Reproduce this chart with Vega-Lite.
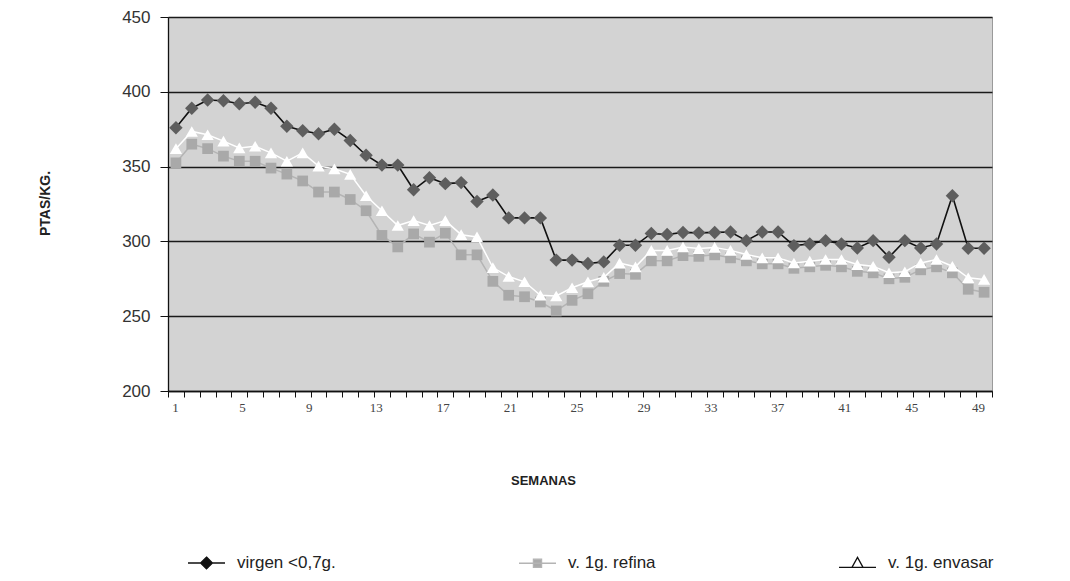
{
  "$schema": "https://vega.github.io/schema/vega-lite/v6.json",
  "width": 824,
  "height": 374,
  "autosize": "none",
  "padding": {"left": 168, "top": 17, "right": 78, "bottom": 190},
  "background": "white",
  "config": {
    "view": {"fill": "#d3d3d3", "stroke": "#9a9a9a", "strokeWidth": 1},
    "font": "Liberation Sans"
  },
  "data": {"values": [
    {"semana":1,"serie":"virgen <0,7g.","valor":376},{"semana":2,"serie":"virgen <0,7g.","valor":389},{"semana":3,"serie":"virgen <0,7g.","valor":394.5},{"semana":4,"serie":"virgen <0,7g.","valor":394},{"semana":5,"serie":"virgen <0,7g.","valor":392},{"semana":6,"serie":"virgen <0,7g.","valor":393},{"semana":7,"serie":"virgen <0,7g.","valor":389},{"semana":8,"serie":"virgen <0,7g.","valor":377},{"semana":9,"serie":"virgen <0,7g.","valor":374},{"semana":10,"serie":"virgen <0,7g.","valor":372},{"semana":11,"serie":"virgen <0,7g.","valor":375},{"semana":12,"serie":"virgen <0,7g.","valor":367.5},{"semana":13,"serie":"virgen <0,7g.","valor":357.6},{"semana":14,"serie":"virgen <0,7g.","valor":351},{"semana":15,"serie":"virgen <0,7g.","valor":351},{"semana":16,"serie":"virgen <0,7g.","valor":334.5},{"semana":17,"serie":"virgen <0,7g.","valor":342.6},{"semana":18,"serie":"virgen <0,7g.","valor":338.6},{"semana":19,"serie":"virgen <0,7g.","valor":339.3},{"semana":20,"serie":"virgen <0,7g.","valor":326.7},{"semana":21,"serie":"virgen <0,7g.","valor":331},{"semana":22,"serie":"virgen <0,7g.","valor":315.7},{"semana":23,"serie":"virgen <0,7g.","valor":315.7},{"semana":24,"serie":"virgen <0,7g.","valor":315.7},{"semana":25,"serie":"virgen <0,7g.","valor":287.5},{"semana":26,"serie":"virgen <0,7g.","valor":287.5},{"semana":27,"serie":"virgen <0,7g.","valor":285.2},{"semana":28,"serie":"virgen <0,7g.","valor":286.3},{"semana":29,"serie":"virgen <0,7g.","valor":297.4},{"semana":30,"serie":"virgen <0,7g.","valor":297.4},{"semana":31,"serie":"virgen <0,7g.","valor":305.3},{"semana":32,"serie":"virgen <0,7g.","valor":304.6},{"semana":33,"serie":"virgen <0,7g.","valor":306},{"semana":34,"serie":"virgen <0,7g.","valor":305.7},{"semana":35,"serie":"virgen <0,7g.","valor":306},{"semana":36,"serie":"virgen <0,7g.","valor":306.3},{"semana":37,"serie":"virgen <0,7g.","valor":300.5},{"semana":38,"serie":"virgen <0,7g.","valor":306.3},{"semana":39,"serie":"virgen <0,7g.","valor":306.3},{"semana":40,"serie":"virgen <0,7g.","valor":297.2},{"semana":41,"serie":"virgen <0,7g.","valor":298.3},{"semana":42,"serie":"virgen <0,7g.","valor":300.5},{"semana":43,"serie":"virgen <0,7g.","valor":298.3},{"semana":44,"serie":"virgen <0,7g.","valor":295.6},{"semana":45,"serie":"virgen <0,7g.","valor":300.5},{"semana":46,"serie":"virgen <0,7g.","valor":289.4},{"semana":47,"serie":"virgen <0,7g.","valor":300.5},{"semana":48,"serie":"virgen <0,7g.","valor":295.6},{"semana":49,"serie":"virgen <0,7g.","valor":298.3},{"semana":50,"serie":"virgen <0,7g.","valor":330.5},{"semana":51,"serie":"virgen <0,7g.","valor":295.4},{"semana":52,"serie":"virgen <0,7g.","valor":295.4},
    {"semana":1,"serie":"v. 1g. refina","valor":352.5},{"semana":2,"serie":"v. 1g. refina","valor":365},{"semana":3,"serie":"v. 1g. refina","valor":362},{"semana":4,"serie":"v. 1g. refina","valor":357},{"semana":5,"serie":"v. 1g. refina","valor":353.6},{"semana":6,"serie":"v. 1g. refina","valor":353.6},{"semana":7,"serie":"v. 1g. refina","valor":349},{"semana":8,"serie":"v. 1g. refina","valor":345},{"semana":9,"serie":"v. 1g. refina","valor":340.4},{"semana":10,"serie":"v. 1g. refina","valor":333},{"semana":11,"serie":"v. 1g. refina","valor":333},{"semana":12,"serie":"v. 1g. refina","valor":328},{"semana":13,"serie":"v. 1g. refina","valor":320.5},{"semana":14,"serie":"v. 1g. refina","valor":304},{"semana":15,"serie":"v. 1g. refina","valor":296.3},{"semana":16,"serie":"v. 1g. refina","valor":305},{"semana":17,"serie":"v. 1g. refina","valor":299.5},{"semana":18,"serie":"v. 1g. refina","valor":305.5},{"semana":19,"serie":"v. 1g. refina","valor":291},{"semana":20,"serie":"v. 1g. refina","valor":291},{"semana":21,"serie":"v. 1g. refina","valor":273.3},{"semana":22,"serie":"v. 1g. refina","valor":264},{"semana":23,"serie":"v. 1g. refina","valor":263},{"semana":24,"serie":"v. 1g. refina","valor":259.5},{"semana":25,"serie":"v. 1g. refina","valor":253.5},{"semana":26,"serie":"v. 1g. refina","valor":260.6},{"semana":27,"serie":"v. 1g. refina","valor":265},{"semana":28,"serie":"v. 1g. refina","valor":273.3},{"semana":29,"serie":"v. 1g. refina","valor":278.5},{"semana":30,"serie":"v. 1g. refina","valor":278},{"semana":31,"serie":"v. 1g. refina","valor":287},{"semana":32,"serie":"v. 1g. refina","valor":287},{"semana":33,"serie":"v. 1g. refina","valor":290.5},{"semana":34,"serie":"v. 1g. refina","valor":290},{"semana":35,"serie":"v. 1g. refina","valor":291},{"semana":36,"serie":"v. 1g. refina","valor":289},{"semana":37,"serie":"v. 1g. refina","valor":287},{"semana":38,"serie":"v. 1g. refina","valor":285},{"semana":39,"serie":"v. 1g. refina","valor":285},{"semana":40,"serie":"v. 1g. refina","valor":282},{"semana":41,"serie":"v. 1g. refina","valor":283},{"semana":42,"serie":"v. 1g. refina","valor":284},{"semana":43,"serie":"v. 1g. refina","valor":283},{"semana":44,"serie":"v. 1g. refina","valor":280},{"semana":45,"serie":"v. 1g. refina","valor":279},{"semana":46,"serie":"v. 1g. refina","valor":275},{"semana":47,"serie":"v. 1g. refina","valor":276},{"semana":48,"serie":"v. 1g. refina","valor":281},{"semana":49,"serie":"v. 1g. refina","valor":283},{"semana":50,"serie":"v. 1g. refina","valor":279},{"semana":51,"serie":"v. 1g. refina","valor":268},{"semana":52,"serie":"v. 1g. refina","valor":266},
    {"semana":1,"serie":"v. 1g. envasar","valor":362},{"semana":2,"serie":"v. 1g. envasar","valor":373.5},{"semana":3,"serie":"v. 1g. envasar","valor":371.3},{"semana":4,"serie":"v. 1g. envasar","valor":367},{"semana":5,"serie":"v. 1g. envasar","valor":362.5},{"semana":6,"serie":"v. 1g. envasar","valor":363.6},{"semana":7,"serie":"v. 1g. envasar","valor":359.2},{"semana":8,"serie":"v. 1g. envasar","valor":353.6},{"semana":9,"serie":"v. 1g. envasar","valor":359.2},{"semana":10,"serie":"v. 1g. envasar","valor":350.3},{"semana":11,"serie":"v. 1g. envasar","valor":348.5},{"semana":12,"serie":"v. 1g. envasar","valor":344.8},{"semana":13,"serie":"v. 1g. envasar","valor":330.5},{"semana":14,"serie":"v. 1g. envasar","valor":320.5},{"semana":15,"serie":"v. 1g. envasar","valor":310.6},{"semana":16,"serie":"v. 1g. envasar","valor":313.9},{"semana":17,"serie":"v. 1g. envasar","valor":310.6},{"semana":18,"serie":"v. 1g. envasar","valor":313.9},{"semana":19,"serie":"v. 1g. envasar","valor":304.5},{"semana":20,"serie":"v. 1g. envasar","valor":303},{"semana":21,"serie":"v. 1g. envasar","valor":282.5},{"semana":22,"serie":"v. 1g. envasar","valor":276.5},{"semana":23,"serie":"v. 1g. envasar","valor":273},{"semana":24,"serie":"v. 1g. envasar","valor":264},{"semana":25,"serie":"v. 1g. envasar","valor":263.5},{"semana":26,"serie":"v. 1g. envasar","valor":269},{"semana":27,"serie":"v. 1g. envasar","valor":273},{"semana":28,"serie":"v. 1g. envasar","valor":276},{"semana":29,"serie":"v. 1g. envasar","valor":285.5},{"semana":30,"serie":"v. 1g. envasar","valor":283},{"semana":31,"serie":"v. 1g. envasar","valor":294},{"semana":32,"serie":"v. 1g. envasar","valor":294},{"semana":33,"serie":"v. 1g. envasar","valor":296.3},{"semana":34,"serie":"v. 1g. envasar","valor":295.2},{"semana":35,"serie":"v. 1g. envasar","valor":296},{"semana":36,"serie":"v. 1g. envasar","valor":294},{"semana":37,"serie":"v. 1g. envasar","valor":291.2},{"semana":38,"serie":"v. 1g. envasar","valor":289},{"semana":39,"serie":"v. 1g. envasar","valor":289},{"semana":40,"serie":"v. 1g. envasar","valor":285.6},{"semana":41,"serie":"v. 1g. envasar","valor":286.8},{"semana":42,"serie":"v. 1g. envasar","valor":287.9},{"semana":43,"serie":"v. 1g. envasar","valor":287.9},{"semana":44,"serie":"v. 1g. envasar","valor":284.5},{"semana":45,"serie":"v. 1g. envasar","valor":283.4},{"semana":46,"serie":"v. 1g. envasar","valor":279},{"semana":47,"serie":"v. 1g. envasar","valor":279.7},{"semana":48,"serie":"v. 1g. envasar","valor":285.6},{"semana":49,"serie":"v. 1g. envasar","valor":287.9},{"semana":50,"serie":"v. 1g. envasar","valor":283.4},{"semana":51,"serie":"v. 1g. envasar","valor":275.7},{"semana":52,"serie":"v. 1g. envasar","valor":274.6}
  ]},
  "resolve": {"scale": {"x": "independent"}, "axis": {"x": "independent"}},
  "layer": [
    {
      "encoding": {
        "x": {"field": "semana", "type": "quantitative",
          "scale": {"domain": [0.5, 52.5], "nice": false, "zero": false},
          "axis": {"values": [0.5,1.5,2.5,3.5,4.5,5.5,6.5,7.5,8.5,9.5,10.5,11.5,12.5,13.5,14.5,15.5,16.5,17.5,18.5,19.5,20.5,21.5,22.5,23.5,24.5,25.5,26.5,27.5,28.5,29.5,30.5,31.5,32.5,33.5,34.5,35.5,36.5,37.5,38.5,39.5,40.5,41.5,42.5,43.5,44.5,45.5,46.5,47.5,48.5,49.5,50.5,51.5,52.5],
            "labels": false, "ticks": true, "tickSize": 6, "tickColor": "#111", "tickWidth": 1, "domain": true, "domainColor": "#111", "domainWidth": 1.3, "grid": false, "title": null, "orient": "bottom"}},
        "y": {"field": "valor", "type": "quantitative",
          "scale": {"domain": [200, 450], "nice": false, "zero": false},
          "axis": {"values": [200,250,300,350,400,450], "grid": true, "gridColor": "#1a1a1a", "gridWidth": 1.3,
            "domainColor": "#111", "domainWidth": 1.3, "tickColor": "#111", "tickSize": 8, "labelFontSize": 17, "labelColor": "#333", "labelFont": "Liberation Sans", "labelPadding": 10,
            "title": "PTAS/KG.", "titleFontSize": 14, "titleFontWeight": "bold", "titleColor": "#222", "titleX": -123, "titleY": 186, "titleAngle": -90, "titleAlign": "center", "titleBaseline": "middle"}}
      },
      "layer": [
        {"transform": [{"filter": "datum.serie === 'v. 1g. refina'"}],
         "mark": {"type": "line", "strokeWidth": 1.5},
         "encoding": {"color": {"field": "serie", "type": "nominal",
            "scale": {"domain": ["virgen <0,7g.", "v. 1g. refina", "v. 1g. envasar"], "range": ["#111111", "#b4b4b4", "#111111"]},
            "legend": {"orient": "none", "direction": "horizontal", "legendX": 19, "legendY": 526, "padding": 0, "title": null,
              "symbolSize": 1369, "symbolStrokeWidth": 1.3, "labelFontSize": 17, "labelFont": "Liberation Sans", "labelColor": "#222", "labelOffset": 11, "columnPadding": 180,
              "encode": {"symbols": {"update": {
                "shape": {"signal": "datum.value === 'virgen <0,7g.' ? 'M-1,0H1M0,-0.32L0.32,0L0,0.32L-0.32,0Z' : datum.value === 'v. 1g. refina' ? 'M-1,0H1M-0.22,-0.22H0.22V0.22H-0.22Z' : 'M-1,0.22H1M0,-0.32L0.3,0.22L-0.3,0.22Z'"},
                "fill": {"signal": "datum.value === 'virgen <0,7g.' ? '#111' : datum.value === 'v. 1g. refina' ? '#aaaaaa' : '#ffffff'"},
                "strokeWidth": {"value": 1.3},
                "opacity": {"value": 1}}}}}}}},
        {"transform": [{"filter": "datum.serie === 'v. 1g. refina'"}],
         "mark": {"type": "point", "shape": "square", "filled": true, "color": "#a9a9a9", "size": 115, "opacity": 1}},
        {"transform": [{"filter": "datum.serie === 'v. 1g. envasar'"}],
         "mark": {"type": "line", "strokeWidth": 1.5, "color": "#ffffff"}},
        {"transform": [{"filter": "datum.serie === 'v. 1g. envasar'"}],
         "mark": {"type": "point", "shape": "triangle-up", "filled": true, "color": "#ffffff", "size": 150, "opacity": 1}},
        {"transform": [{"filter": "datum.serie === 'virgen <0,7g.'"}],
         "mark": {"type": "line", "strokeWidth": 1.6},
         "encoding": {"color": {"field": "serie", "type": "nominal"}}},
        {"transform": [{"filter": "datum.serie === 'virgen <0,7g.'"}],
         "mark": {"type": "point", "shape": "diamond", "filled": true, "color": "#5e5e5e", "size": 180, "opacity": 1}}
      ]
    },
    {
      "mark": {"type": "point", "opacity": 0},
      "encoding": {
        "x": {"field": "semana", "type": "quantitative",
          "scale": {"domain": [0.58, 49.83], "nice": false, "zero": false},
          "axis": {"orient": "bottom", "values": [1,5,9,13,17,21,25,29,33,37,41,45,49], "ticks": false, "tickSize": 0, "domain": false, "grid": false,
            "labelFontSize": 13, "labelFont": "Liberation Sans Narrow", "labelColor": "#444", "labelPadding": 10,
            "title": "SEMANAS", "titleFontSize": 13, "titleFontWeight": "bold", "titleColor": "#222", "titleX": 375, "titleY": 89, "titleBaseline": "middle", "titleAlign": "center"}},
        "y": {"field": "valor", "type": "quantitative"}
      }
    }
  ]
}
